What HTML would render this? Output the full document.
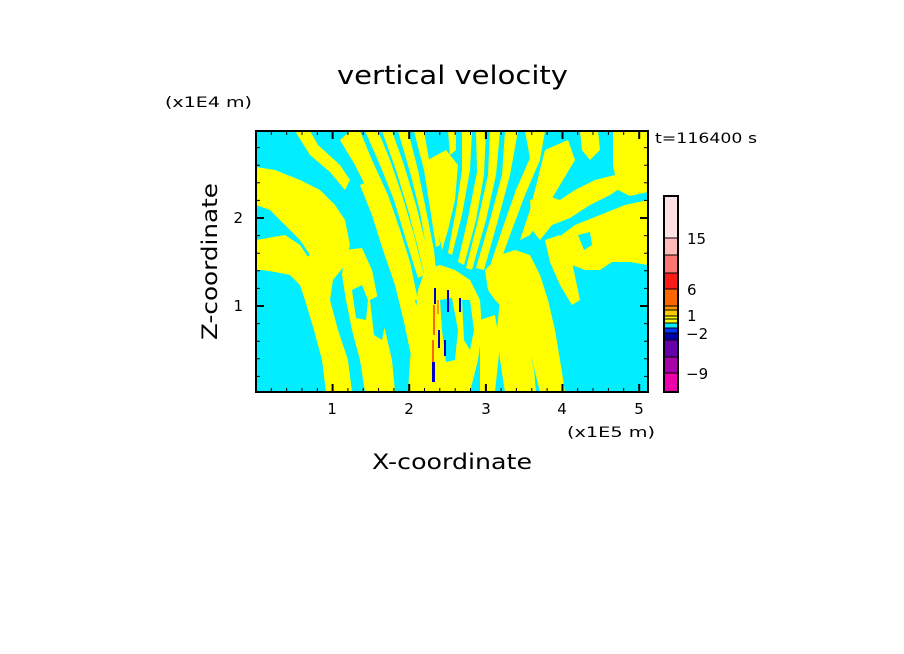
<!DOCTYPE html>
<html><head><meta charset="utf-8"><style>
html,body{margin:0;padding:0;background:#fff}
svg{display:block}
text{font-family:"DejaVu Sans","Liberation Sans",sans-serif;fill:#000}
</style></head><body>
<svg width="904" height="654" viewBox="0 0 904 654" xmlns="http://www.w3.org/2000/svg">
<rect width="904" height="654" fill="#fff"/>
<text x="337" y="84" font-size="26" textLength="231" lengthAdjust="spacingAndGlyphs">vertical velocity</text>
<text x="165" y="107" font-size="14" textLength="87" lengthAdjust="spacingAndGlyphs">(x1E4 m)</text>
<text x="655" y="143" font-size="14" textLength="102" lengthAdjust="spacingAndGlyphs">t=116400 s</text>
<defs><clipPath id="c"><rect x="256" y="131" width="392" height="261"/></clipPath></defs>
<g clip-path="url(#c)">
<rect x="256" y="131" width="392" height="261" fill="#00eeff"/>
<g fill="#ffff00">
<path d="M256,167 L275,170 L300,180 L320,190 L335,205 L345,220 L350,245 L345,265 L333,280 L330,300 L338,330 L348,360 L352,392 L326,392 L322,360 L314,330 L305,300 L300,285 L290,275 L275,272 L262,270 L256,270 Z"/>
<path d="M256,131 L295,131 L305,150 L330,170 L345,185 L340,195 L320,185 L300,175 L275,165 L256,160 Z" fill="#00eeff"/>
<path d="M295,131 L310,131 L318,145 L340,165 L350,180 L345,190 L330,172 L310,155 Z"/>
<path d="M256,205 L270,210 L285,225 L300,240 L310,255 L300,262 L285,262 L270,258 L256,258 Z" fill="#00eeff"/>
<path d="M256,240 L285,235 L300,245 L310,260 L290,265 L256,265 Z"/>
<path d="M345,250 L362,248 L372,270 L378,300 L385,330 L392,360 L395,392 L365,392 L360,360 L352,330 L346,300 L342,275 Z"/>
<path d="M352,290 L362,285 L368,300 L366,320 L356,318 Z" fill="#00eeff"/>
<path d="M370,300 L380,295 L386,320 L382,340 L374,335 Z" fill="#00eeff"/>
<path d="M340,140 L350,131 L360,131 L372,160 L388,195 L400,230 L410,262 L418,300 L410,300 L398,265 L385,228 L370,195 L355,165 Z"/>
<path d="M360,185 L372,180 L385,210 L398,245 L410,280 L420,320 L428,360 L432,392 L418,392 L412,360 L404,322 L395,285 L383,250 L372,215 Z"/>
<path d="M365,131 L378,131 L390,160 L402,195 L414,235 L424,275 L418,278 L406,240 L394,200 L380,165 Z"/>
<path d="M382,131 L392,131 L404,165 L416,205 L426,245 L432,280 L426,282 L418,248 L408,210 L396,170 Z"/>
<path d="M398,131 L408,131 L418,170 L426,210 L434,250 L438,290 L432,292 L427,252 L420,212 L410,172 Z"/>
<path d="M414,131 L424,131 L430,165 L436,205 L440,245 L436,247 L430,208 L424,170 Z"/>
<path d="M428,160 L446,150 L458,165 L455,200 L448,230 L442,250 L438,230 L432,195 Z"/>
<path d="M448,131 L456,131 L456,150 L450,155 Z"/>
<path d="M462,131 L472,131 L470,170 L462,215 L452,255 L448,253 L456,210 L462,170 Z"/>
<path d="M476,131 L486,131 L484,175 L476,220 L464,265 L458,262 L468,218 L477,172 Z"/>
<path d="M490,131 L500,131 L496,175 L486,220 L472,270 L466,268 L478,220 L488,175 Z"/>
<path d="M505,131 L518,131 L510,175 L498,220 L484,270 L476,268 L490,220 L502,175 Z"/>
<path d="M525,131 L545,131 L540,160 L525,195 L510,235 L498,268 L490,266 L502,230 L516,190 L530,158 Z"/>
<path d="M545,150 L568,140 L575,160 L560,185 L545,210 L530,235 L520,240 L530,210 Z"/>
<path d="M425,270 L440,265 L455,270 L470,280 L480,300 L482,330 L478,360 L470,392 L408,392 L410,360 L415,320 L418,290 Z"/>
<path d="M440,300 L452,298 L458,330 L455,360 L446,362 L442,330 Z" fill="#00eeff"/>
<path d="M462,300 L470,300 L474,330 L470,350 L464,340 Z" fill="#00eeff"/>
<path d="M485,270 L500,255 L515,250 L530,255 L540,275 L548,300 L555,330 L560,360 L565,392 L540,392 L532,360 L520,330 L505,310 L495,300 L488,290 Z"/>
<path d="M500,300 L515,295 L522,320 L528,345 L534,370 L536,392 L505,392 L500,360 L497,330 Z"/>
<path d="M480,320 L495,315 L500,345 L495,392 L480,392 Z"/>
<path d="M530,200 L545,195 L560,200 L575,190 L595,180 L615,175 L625,185 L610,195 L590,205 L570,218 L552,225 L540,240 L532,230 Z"/>
<path d="M555,240 L575,225 L600,215 L625,205 L648,200 L648,265 L630,262 L612,262 L600,270 L585,270 L572,265 L560,262 Z"/>
<path d="M545,240 L560,235 L572,262 L580,300 L572,305 L560,285 L550,262 Z"/>
<path d="M613,131 L648,131 L648,192 L630,196 L618,190 L613,165 Z"/>
<path d="M580,131 L598,131 L600,150 L590,160 L582,150 Z"/>
<path d="M578,235 L590,232 L592,245 L584,250 Z" fill="#00eeff"/>
</g>
<g>
<rect x="434" y="288" width="2" height="16" fill="#0000cc"/>
<rect x="433" y="305" width="2" height="30" fill="#ff6600"/>
<rect x="437" y="300" width="2" height="14" fill="#ff9900"/>
<rect x="447" y="290" width="2" height="22" fill="#0000cc"/>
<rect x="459" y="298" width="2" height="14" fill="#0000cc"/>
<rect x="432" y="340" width="2" height="22" fill="#ff6600"/>
<rect x="432" y="362" width="3" height="20" fill="#0000cc"/>
<rect x="438" y="330" width="2" height="18" fill="#0000cc"/>
<rect x="444" y="340" width="2" height="16" fill="#0000cc"/>
</g>
</g>
<rect x="256" y="131" width="392" height="261" fill="none" stroke="#000" stroke-width="2"/>
<g stroke="#000" stroke-width="1">
<path d="M271.3,392v-4M286.7,392v-4M302,392v-4M317.3,392v-4M347.9,392v-4M363.2,392v-4M378.6,392v-4M393.9,392v-4M424.5,392v-4M439.8,392v-4M455.2,392v-4M470.5,392v-4M501.1,392v-4M516.4,392v-4M531.8,392v-4M547.1,392v-4M577.7,392v-4M593,392v-4M608.4,392v-4M623.7,392v-4
M271.3,131v4M286.7,131v4M302,131v4M317.3,131v4M347.9,131v4M363.2,131v4M378.6,131v4M393.9,131v4M424.5,131v4M439.8,131v4M455.2,131v4M470.5,131v4M501.1,131v4M516.4,131v4M531.8,131v4M547.1,131v4M577.7,131v4M593,131v4M608.4,131v4M623.7,131v4
M256,376.4h4M256,358.8h4M256,341.2h4M256,323.6h4M256,288.4h4M256,270.8h4M256,253.2h4M256,235.6h4M256,200.4h4M256,182.8h4M256,165.2h4M256,147.6h4
M648,376.4h-4M648,358.8h-4M648,341.2h-4M648,323.6h-4M648,288.4h-4M648,270.8h-4M648,253.2h-4M648,235.6h-4M648,200.4h-4M648,182.8h-4M648,165.2h-4M648,147.6h-4"/>
</g>
<g stroke="#000" stroke-width="2">
<path d="M332.6,392v-8M409.2,392v-8M485.9,392v-8M562.5,392v-8M639.2,392v-8M332.6,131v8M409.2,131v8M485.9,131v8M562.5,131v8M639.2,131v8M256,306h8M256,218h8M648,306h-8M648,218h-8"/>
</g>
<g font-size="15" text-anchor="middle">
<text x="332" y="414">1</text><text x="409" y="414">2</text><text x="486" y="414">3</text><text x="562" y="414">4</text><text x="639" y="414">5</text>
</g>
<text x="243" y="311" font-size="15" text-anchor="end">1</text>
<text x="243" y="223" font-size="15" text-anchor="end">2</text>
<text x="567" y="437" font-size="14" textLength="88" lengthAdjust="spacingAndGlyphs">(x1E5 m)</text>
<text x="372" y="469" font-size="21" textLength="160" lengthAdjust="spacingAndGlyphs">X-coordinate</text>
<text transform="translate(217,340) rotate(-90)" font-size="21" textLength="157" lengthAdjust="spacingAndGlyphs">Z-coordinate</text>
<g>
<rect x="664" y="196" width="14" height="42" fill="#ffe0e0"/>
<rect x="664" y="238" width="14" height="17" fill="#ffbaba"/>
<rect x="664" y="255" width="14" height="18" fill="#ff7474"/>
<rect x="664" y="273" width="14" height="16" fill="#ff1a1a"/>
<rect x="664" y="289" width="14" height="17" fill="#ff6600"/>
<rect x="664" y="306" width="14" height="4" fill="#ff9900"/>
<rect x="664" y="310" width="14" height="6" fill="#ffcc00"/>
<rect x="664" y="316" width="14" height="7" fill="#ffff00"/>
<rect x="664" y="323" width="14" height="5" fill="#00eeff"/>
<rect x="664" y="328" width="14" height="5" fill="#0033ff"/>
<rect x="664" y="333" width="14" height="7" fill="#0000aa"/>
<rect x="664" y="340" width="14" height="17" fill="#6600aa"/>
<rect x="664" y="357" width="14" height="16" fill="#aa00aa"/>
<rect x="664" y="373" width="14" height="19" fill="#ee00aa"/>
<g stroke="#000" stroke-width="1"><path d="M664,238h14M664,255h14M664,273h14M664,289h14M664,306h14M664,310h14M664,316h14M664,319h14M664,323h14M664,328h14M664,333h14M664,340h14M664,357h14M664,373h14"/></g>
<rect x="664" y="196" width="14" height="196" fill="none" stroke="#000" stroke-width="2"/>
</g>
<g font-size="15">
<text x="687" y="244">15</text><text x="687" y="295">6</text><text x="687" y="321">1</text><text x="686" y="339">−2</text><text x="686" y="379">−9</text>
</g>
</svg>
</body></html>
